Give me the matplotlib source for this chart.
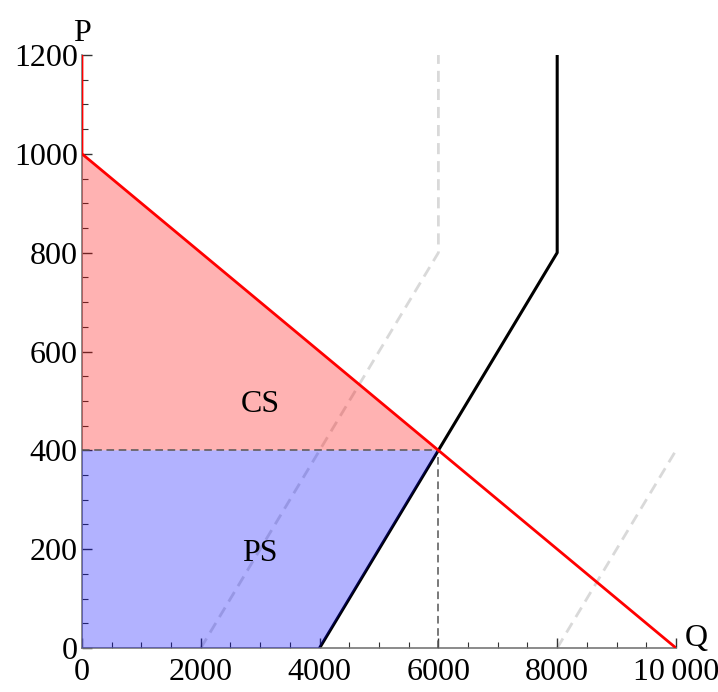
import numpy as np
import matplotlib.pyplot as plt
from matplotlib.ticker import MultipleLocator

plt.rcParams['font.family'] = ['Liberation Serif', 'DejaVu Serif']

# demand and supply curves (Q, P)
demand_q = [0, 0, 10000]
demand_p = [1200, 1000, 0]
supply_q = [4000, 8000, 8000]
supply_p = [0, 800, 1200]
supply_left_q = [2000, 6000, 6000]
supply_left_p = [0, 800, 1200]
supply_right_q = [8000, 10000]
supply_right_p = [0, 400]

# equilibrium
q_eq = 6000
p_eq = 400

# surplus regions
cs_q = [0, 0, 6000]
cs_p = [400, 1000, 400]
ps_q = [0, 4000, 6000, 0]
ps_p = [0, 0, 400, 400]

x_ticks = [0, 2000, 4000, 6000, 8000, 10000]
x_labels = ["0", "2000", "4000", "6000", "8000", "10\u2009000"]
y_ticks = [0, 200, 400, 600, 800, 1000, 1200]

fs = 23

fig = plt.figure(figsize=(7.18, 6.92), dpi=100)
ax = fig.add_axes([0.1142, 0.0636, 0.8273, 0.8569])

ax.plot(supply_left_q, supply_left_p, color="#d9d9d9", lw=2, ls=(0, (4, 2.5)), zorder=1)
ax.plot(supply_right_q, supply_right_p, color="#d9d9d9", lw=2, ls=(0, (4, 2.5)), zorder=1)
ax.plot(supply_q, supply_p, color="black", lw=2.2, zorder=2)

ax.fill(cs_q, cs_p, color="red", alpha=0.3, lw=0, zorder=3)
ax.fill(ps_q, ps_p, color="blue", alpha=0.3, lw=0, zorder=3)

ax.plot([0, q_eq], [p_eq, p_eq], color="#555555", lw=1.1, ls=(0, (5, 3)), zorder=4)
ax.plot([q_eq, q_eq], [0, p_eq], color="#555555", lw=1.1, ls=(0, (5, 3)), zorder=4)

ax.plot(demand_q, demand_p, color="red", lw=2, zorder=5)

ax.text(3000, 492, "CS", fontsize=fs, ha="center", va="center")
ax.text(3000, 192, "PS", fontsize=fs, ha="center", va="center")

ax.set_xlim(0, 10000)
ax.set_ylim(0, 1200)
ax.set_xticks(x_ticks)
ax.set_xticklabels(x_labels)
ax.set_yticks(y_ticks)
ax.xaxis.set_minor_locator(MultipleLocator(500))
ax.yaxis.set_minor_locator(MultipleLocator(50))
ax.tick_params(which="both", direction="in", labelsize=fs, color="#333333")
ax.tick_params(which="major", length=7, width=1)
ax.tick_params(which="minor", length=4, width=0.8)
ax.tick_params(axis="x", pad=7)
ax.tick_params(axis="y", pad=3)

for s in ["top", "right"]:
    ax.spines[s].set_visible(False)
for s in ["left", "bottom"]:
    ax.spines[s].set_color("#777777")
    ax.spines[s].set_linewidth(1.2)

ax.text(0, 1215, "P", fontsize=fs, ha="center", va="bottom", clip_on=False)
ax.text(10150, -10, "Q", fontsize=fs, ha="left", va="bottom", clip_on=False)

fig.savefig("out.png", dpi=100)
